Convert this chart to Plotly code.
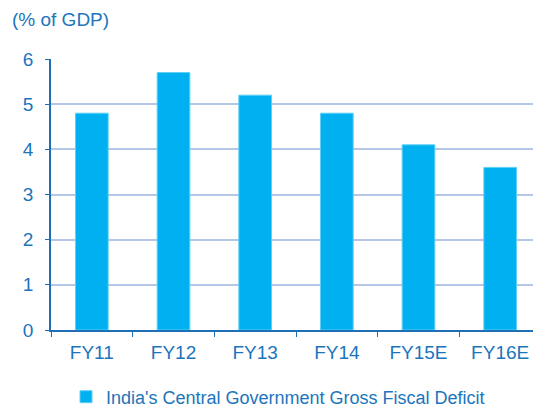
import plotly.graph_objects as go

categories = ["FY11", "FY12", "FY13", "FY14", "FY15E", "FY16E"]
values = [4.8, 5.7, 5.2, 4.8, 4.1, 3.6]
series_name = "India's Central Government Gross Fiscal Deficit"
y_ticks = [0, 1, 2, 3, 4, 5, 6]

text_color = "#1b75bc"
bar_color = "#00b0f0"

# page body adds an 8px margin, so the figure is sized/positioned to compensate
OFF = 8
W, H = 541 - OFF, 407 - OFF
L, R, T, B = 51 - OFF, 0, 59 - OFF, H - (330 - OFF)
PW, PH = W - L - R, H - T - B

fig = go.Figure()
fig.add_trace(go.Bar(
    x=categories, y=values, name=series_name,
    marker=dict(color=bar_color, line=dict(color="#5fd0f5", width=1)),
    width=0.4, showlegend=True,
))

fig.update_layout(
    width=W, height=H,
    margin=dict(l=L, r=R, t=T, b=B, autoexpand=False),
    paper_bgcolor="white", plot_bgcolor="white",
    font=dict(family="Liberation Sans, Arial, sans-serif", size=19, color=text_color),
    showlegend=True,
    legend=dict(orientation="h", x=(58 - L) / PW, xanchor="left",
                y=-((397 - OFF) - (330 - OFF)) / PH, yanchor="middle",
                font=dict(size=18, color=text_color), itemwidth=30,
                bgcolor="rgba(0,0,0,0)"),
    bargap=0.6,
)
fig.add_annotation(text="(% of GDP)", xref="paper", yref="paper",
                   x=-(L - 2) / PW, y=1 + (T - 12) / PH, xanchor="left", yanchor="middle",
                   showarrow=False, font=dict(size=19, color=text_color))

fig.update_xaxes(
    type="category", showline=True, linecolor="#1f6fb6", linewidth=1.5,
    ticks="outside", tickson="boundaries", ticklen=5, tickcolor="#1f6fb6",
    showgrid=False, tickfont=dict(size=19, color=text_color), automargin=False,
    ticklabelstandoff=4,
)
fig.update_yaxes(
    range=[0, 6], tickvals=y_ticks, showline=True, linecolor="#1f6fb6", linewidth=1.5,
    ticks="outside", ticklen=4, tickcolor="#1f6fb6",
    showgrid=True, gridcolor="#b4c7e7", gridwidth=2,
    tickfont=dict(size=19, color=text_color), zeroline=False, automargin=False,
    ticklabelstandoff=8,
)

fig.write_html("out.html")
